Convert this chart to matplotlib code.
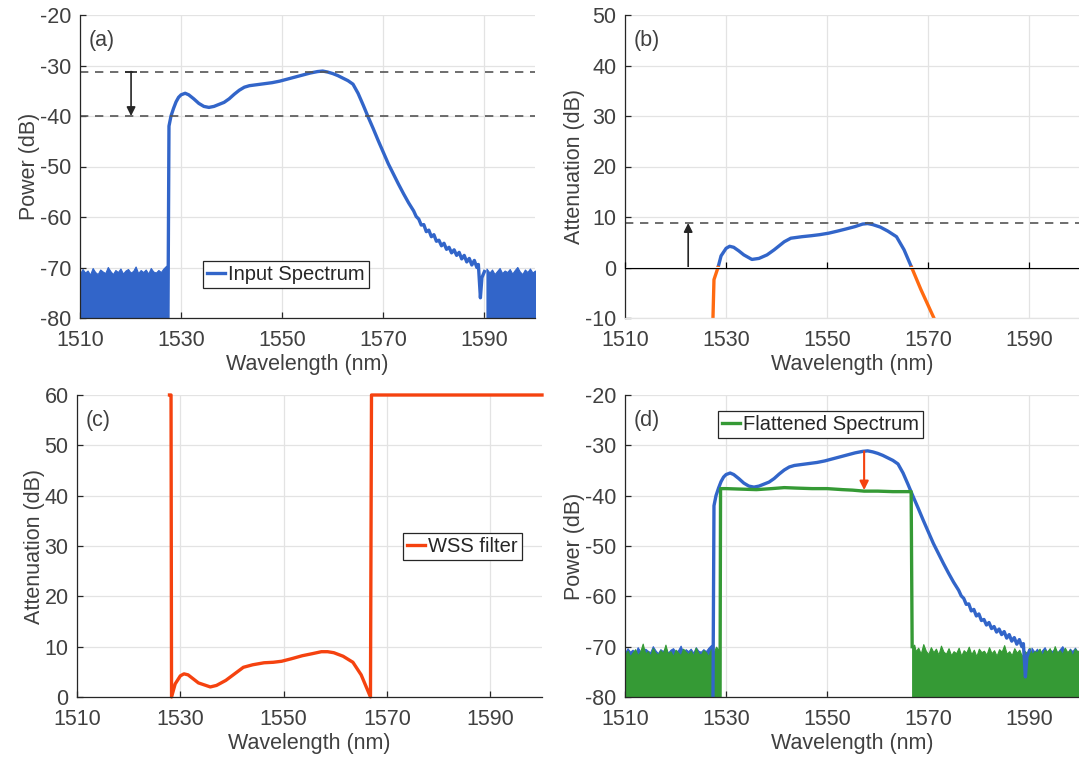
import numpy as np
import matplotlib
matplotlib.use("Agg")
import matplotlib.pyplot as plt

plt.rcParams['font.family'] = ['Liberation Sans', 'DejaVu Sans']
plt.rcParams['axes.unicode_minus'] = False

BLUE = '#3265c9'
GREEN = '#359a35'
ORANGE = '#ff6a10'
RED = '#f5420f'
TEXT = '#404040'

# input spectrum: main curve (nm, dB)
in_wl = [1527.4, 1527.6, 1528.0, 1528.5, 1529.0, 1529.5, 1530.0, 1530.8, 1531.5,
         1532.5, 1533.5, 1534.5, 1535.5, 1536.5, 1537.5, 1538.5, 1539.5, 1540.5,
         1541.5, 1542.5, 1543.5, 1545.0, 1546.5, 1548.0, 1549.5, 1551.0, 1552.5,
         1554.0, 1555.5, 1557.0, 1558.0, 1559.0, 1560.0, 1561.0, 1562.0, 1563.0,
         1564.0, 1565.0, 1566.0, 1567.0, 1568.0, 1569.0, 1570.0, 1571.0, 1572.0,
         1573.0, 1574.0, 1575.0, 1576.0, 1576.5, 1577.0, 1577.5, 1578.0, 1578.5,
         1579.0, 1579.5, 1580.0, 1580.5, 1581.0, 1581.5, 1582.0, 1582.5, 1583.0,
         1583.5, 1584.0, 1584.5, 1585.0, 1585.5, 1586.0, 1586.5, 1587.0, 1587.5,
         1588.0, 1588.5, 1588.8, 1589.2, 1589.5, 1590.0]
in_db = [-80.0, -42.0, -40.0, -38.5, -37.2, -36.3, -35.8, -35.5, -35.8,
         -36.6, -37.5, -38.1, -38.3, -38.1, -37.7, -37.3, -36.6, -35.7,
         -34.9, -34.3, -34.0, -33.8, -33.6, -33.4, -33.1, -32.7, -32.3,
         -31.9, -31.5, -31.2, -31.1, -31.3, -31.6, -32.0, -32.5, -33.0,
         -33.7, -35.5, -37.8, -40.2, -42.5, -44.9, -47.2, -49.5, -51.5,
         -53.5, -55.4, -57.2, -58.8, -59.9, -60.4, -61.6, -61.5, -62.9,
         -62.6, -63.9, -63.5, -64.8, -64.6, -65.7, -65.2, -66.4, -66.0,
         -67.1, -66.5, -67.6, -67.0, -68.3, -67.6, -68.9, -68.2, -69.5,
         -68.6, -70.0, -69.4, -76.0, -72.0, -70.8]

# input spectrum: noise floor upper envelope (band down to -80 dB)
noise_l_wl = [1510.0, 1510.5, 1511.0, 1511.5, 1512.0, 1512.5, 1513.0, 1513.5, 1514.0,
              1514.5, 1515.0, 1515.5, 1516.0, 1516.5, 1517.0, 1517.5, 1518.0, 1518.5,
              1519.0, 1519.5, 1520.0, 1520.5, 1521.0, 1521.5, 1522.0, 1522.5, 1523.0,
              1523.5, 1524.0, 1524.5, 1525.0, 1525.5, 1526.0, 1526.5, 1527.0, 1527.4]
noise_l_db = [-71.2, -70.3, -71.0, -70.6, -71.4, -70.1, -70.9, -71.3, -70.4,
              -70.8, -71.1, -69.9, -70.7, -71.3, -70.5, -70.9, -70.2, -71.2,
              -70.6, -70.3, -71.0, -70.7, -69.8, -71.1, -70.5, -70.9, -70.4,
              -71.2, -70.1, -70.8, -71.0, -70.5, -70.9, -70.2, -69.7, -69.5]
noise_r_wl = [1590.4, 1591.0, 1591.5, 1592.0, 1592.5, 1593.0, 1593.5, 1594.0, 1594.5,
              1595.0, 1595.5, 1596.0, 1596.5, 1597.0, 1597.5, 1598.0, 1598.5, 1599.0,
              1599.5, 1600.0]
noise_r_db = [-70.2, -71.0, -70.4, -71.3, -70.7, -70.1, -71.1, -70.6, -70.9,
              -70.3, -71.2, -70.5, -69.9, -70.8, -71.3, -70.4, -70.9, -70.2,
              -71.0, -70.6]

# attenuation profile (b)
att_wl = [1527.4, 1527.6, 1528.4, 1529.0, 1530.0, 1530.7, 1531.5, 1532.5, 1533.5,
          1535.1, 1536.5, 1538.1, 1539.5, 1541.5, 1542.8, 1545.0, 1546.9, 1548.5,
          1550.3, 1552.0, 1553.6, 1555.5, 1557.0, 1558.0, 1559.0, 1560.5, 1562.0,
          1563.7, 1565.2, 1566.7, 1568.5, 1571.1]
att_db = [-10.0, -2.4, 0.0, 2.3, 3.8, 4.2, 4.0, 3.3, 2.5,
          1.6, 1.8, 2.5, 3.5, 5.1, 5.8, 6.1, 6.3, 6.5,
          6.8, 7.2, 7.6, 8.1, 8.6, 8.7, 8.5, 8.0, 7.2,
          6.1, 3.5, 0.0, -4.3, -10.0]

# WSS filter (c)
wss_wl = [1527.9, 1528.2, 1528.3, 1529.0, 1530.0, 1530.7, 1531.5, 1532.5, 1533.5,
          1535.8, 1537.0, 1538.8, 1540.5, 1542.2, 1544.0, 1546.2, 1548.0, 1549.6,
          1551.5, 1553.6, 1555.5, 1557.3, 1558.5, 1559.7, 1561.5, 1563.4, 1565.0,
          1566.8, 1567.0, 1600.0]
wss_db = [60.0, 60.0, 0.0, 2.6, 4.2, 4.6, 4.4, 3.6, 2.8,
          2.0, 2.3, 3.3, 4.6, 5.9, 6.4, 6.8, 6.9, 7.1,
          7.6, 8.2, 8.6, 9.0, 9.0, 8.8, 8.1, 6.9, 4.4,
          0.0, 60.0, 60.0]

# flattened spectrum (d)
flat_wl = [1528.8, 1528.9, 1530.0, 1533.0, 1536.0, 1539.0, 1541.5, 1544.0, 1547.0,
           1550.0, 1553.0, 1555.0, 1557.3, 1560.0, 1563.0, 1566.6, 1566.8]
flat_db = [-80.0, -38.6, -38.6, -38.7, -38.8, -38.6, -38.4, -38.5, -38.6,
           -38.6, -38.8, -38.9, -39.1, -39.1, -39.2, -39.2, -70.0]
flat_l_wl = [1510.0, 1510.5, 1511.0, 1511.5, 1512.0, 1512.5, 1513.0, 1513.5, 1514.0,
             1514.5, 1515.0, 1515.5, 1516.0, 1516.5, 1517.0, 1517.5, 1518.0, 1518.5,
             1519.0, 1519.5, 1520.0, 1520.5, 1521.0, 1521.5, 1522.0, 1522.5, 1523.0,
             1523.5, 1524.0, 1524.5, 1525.0, 1525.5, 1526.0, 1526.5, 1527.0, 1527.5,
             1528.0, 1528.5, 1528.8]
flat_l_db = [-71.6, -70.8, -71.9, -71.2, -70.5, -71.7, -71.0, -69.4, -71.4,
             -70.9, -71.8, -70.3, -71.2, -71.6, -70.7, -71.3, -69.6, -71.5,
             -70.9, -71.9, -70.6, -71.2, -71.7, -70.4, -71.0, -71.5, -70.8,
             -71.8, -70.2, -71.3, -71.6, -70.7, -71.1, -71.9, -70.5, -71.2,
             -70.0, -70.6, -71.0]
flat_r_wl = [1566.8, 1567.2, 1567.5, 1568.0, 1568.5, 1569.0, 1569.5, 1570.0, 1570.5,
             1571.0, 1571.5, 1572.0, 1572.5, 1573.0, 1573.5, 1574.0, 1574.5, 1575.0,
             1575.5, 1576.0, 1576.5, 1577.0, 1577.5, 1578.0, 1578.5, 1579.0, 1579.5,
             1580.0, 1580.5, 1581.0, 1581.5, 1582.0, 1582.5, 1583.0, 1583.5, 1584.0,
             1584.5, 1585.0, 1585.5, 1586.0, 1586.5, 1587.0, 1587.5, 1588.0, 1588.5,
             1589.0, 1589.5, 1590.0, 1590.5, 1591.0, 1591.5, 1592.0, 1592.5, 1593.0,
             1593.5, 1594.0, 1594.5, 1595.0, 1595.5, 1596.0, 1596.5, 1597.0, 1597.5,
             1598.0, 1598.5, 1599.0, 1599.5, 1600.0]
flat_r_db = [-70.0, -69.6, -70.9, -70.2, -71.4, -69.5, -70.8, -71.5, -70.1,
             -71.1, -70.4, -71.6, -69.8, -71.0, -71.4, -70.3, -71.7, -70.9,
             -71.3, -70.2, -71.8, -70.7, -71.2, -70.0, -71.5, -70.6, -71.9,
             -70.4, -71.1, -70.8, -71.6, -70.1, -71.3, -70.7, -71.8, -70.5,
             -71.0, -69.7, -71.4, -70.9, -71.7, -70.3, -71.2, -70.6, -71.9,
             -70.8, -71.3, -70.2, -71.5, -70.9, -71.1, -70.4, -71.7, -70.6,
             -71.0, -70.3, -71.6, -69.9, -71.2, -70.7, -71.5, -70.2, -71.1,
             -70.6, -71.8, -70.4, -71.0, -70.5]

# annotation levels
PEAK_DB = -31.2
TARGET_DB = -40.0
ATT_MAX = 8.8
ARROW_A_WL = 1520.1
ARROW_B_WL = 1522.5
ARROW_D_WL = 1557.3
FLAT_AT_PEAK = -38.9

XTICKS = [1510, 1530, 1550, 1570, 1590]


def style_axes(ax, ylim, yticks, ylabel, tag):
    ax.set_xlim(1510, 1600)
    ax.set_ylim(*ylim)
    ax.set_xticks(XTICKS)
    ax.set_yticks(yticks)
    ax.grid(True, color='#e3e3e3', linewidth=0.9)
    ax.set_axisbelow(True)
    for side in ('top', 'right'):
        ax.spines[side].set_visible(False)
    for side in ('left', 'bottom'):
        ax.spines[side].set_color('#262626')
        ax.spines[side].set_linewidth(0.9)
    ax.tick_params(direction='in', length=4, width=0.9, colors='#262626',
                   labelsize=15.5, labelcolor=TEXT)
    ax.tick_params(axis='x', pad=8.5)
    ax.tick_params(axis='y', pad=6)
    ax.set_xlabel('Wavelength (nm)', fontsize=15.5, color=TEXT, labelpad=2)
    ax.set_ylabel(ylabel, fontsize=15.5, color=TEXT, labelpad=0)
    ax.text(0.018, 0.915, tag, transform=ax.transAxes, fontsize=15.5,
            color=TEXT, va='center', ha='left')


def legend(ax, anchor):
    leg = ax.legend(loc='upper left', bbox_to_anchor=anchor, fontsize=14.5,
                    fancybox=False, framealpha=1, edgecolor='#262626',
                    handlelength=0.9, handletextpad=0.15, borderpad=0.2,
                    borderaxespad=0)
    leg.get_frame().set_linewidth(0.9)
    for t in leg.get_texts():
        t.set_color('#262626')


def draw_input(ax, label=None):
    ax.fill_between(noise_l_wl, -85, noise_l_db, color=BLUE, linewidth=0.8,
                    edgecolor=BLUE)
    ax.fill_between(noise_r_wl, -85, noise_r_db, color=BLUE, linewidth=0.8,
                    edgecolor=BLUE)
    ax.plot(in_wl, in_db, color=BLUE, linewidth=2.4, label=label)


fig = plt.figure(figsize=(10.79, 7.62), dpi=100)
W, H = 1079, 762
ax_a = fig.add_axes([80 / W, (H - 318) / H, 455 / W, 303 / H])
ax_b = fig.add_axes([625 / W, (H - 318) / H, 455 / W, 303 / H])
ax_c = fig.add_axes([77 / W, (H - 697) / H, 465 / W, 302 / H])
ax_d = fig.add_axes([625 / W, (H - 697) / H, 455 / W, 302 / H])

# (a) input spectrum
style_axes(ax_a, (-80, -20), range(-80, -19, 10), 'Power (dB)', '(a)')
draw_input(ax_a, 'Input Spectrum')
for level in (PEAK_DB, TARGET_DB):
    ax_a.axhline(level, color='#555555', linewidth=1.2, dashes=(5, 4))
ax_a.annotate('', xy=(ARROW_A_WL, TARGET_DB), xytext=(ARROW_A_WL, PEAK_DB),
              arrowprops=dict(arrowstyle='-|>', color='#262626', lw=1.2,
                              mutation_scale=13, shrinkA=0, shrinkB=0))
ax_a.plot([ARROW_A_WL], [PEAK_DB], marker='_', markersize=9, color='#262626',
          markeredgewidth=1.2)
legend(ax_a, ((203 - 80) / 455, 1 - (261 - 15) / 303))

# (b) attenuation, with the x axis line drawn through zero
style_axes(ax_b, (-10, 50), range(-10, 51, 10), 'Attenuation (dB)', '(b)')
ax_b.spines['bottom'].set_color('#e3e3e3')
ax_b.tick_params(axis='x', length=0)
ax_b.axhline(0, color='black', linewidth=0.9, zorder=1.5)
zero_axis = ax_b.secondary_xaxis(10 / 60)
zero_axis.set_zorder(3)
zero_axis.set_xticks(XTICKS)
zero_axis.tick_params(direction='in', length=4, width=0.9, colors='black',
                      labelbottom=False, labeltop=False)
att = np.array(att_db)
ax_b.plot(att_wl, np.where(att >= 0, att, np.nan), color=BLUE, linewidth=2.4)
ax_b.plot(att_wl, np.where(att <= 0, att, np.nan), color=ORANGE, linewidth=2.4)
ax_b.axhline(ATT_MAX, color='#555555', linewidth=1.2, dashes=(5, 4))
ax_b.annotate('', xy=(ARROW_B_WL, ATT_MAX), xytext=(ARROW_B_WL, 0),
              arrowprops=dict(arrowstyle='-|>', color='#262626', lw=1.2,
                              mutation_scale=13, shrinkA=0, shrinkB=0))
ax_b.plot([ARROW_B_WL], [0], marker='_', markersize=9, color='#262626',
          markeredgewidth=1.2)

# (c) WSS filter
style_axes(ax_c, (0, 60), range(0, 61, 10), 'Attenuation (dB)', '(c)')
ax_c.plot(wss_wl, wss_db, color=RED, linewidth=2.4, label='WSS filter',
          clip_on=False)
legend(ax_c, ((403 - 77) / 465, 1 - (533 - 395) / 302))

# (d) flattened spectrum
style_axes(ax_d, (-80, -20), range(-80, -19, 10), 'Power (dB)', '(d)')
draw_input(ax_d)
ax_d.fill_between(flat_l_wl, -85, flat_l_db, color=GREEN, linewidth=0.8,
                  edgecolor=GREEN)
ax_d.fill_between(flat_r_wl, -85, flat_r_db, color=GREEN, linewidth=0.8,
                  edgecolor=GREEN)
ax_d.plot(flat_wl, flat_db, color=GREEN, linewidth=2.4,
          label='Flattened Spectrum')
ax_d.annotate('', xy=(ARROW_D_WL, FLAT_AT_PEAK), xytext=(ARROW_D_WL, PEAK_DB),
              arrowprops=dict(arrowstyle='-|>', color=RED, lw=1.5,
                              mutation_scale=13, shrinkA=0, shrinkB=0))
legend(ax_d, ((718 - 625) / 455, 1 - (411 - 395) / 302))

fig.savefig('out.png', dpi=100)
